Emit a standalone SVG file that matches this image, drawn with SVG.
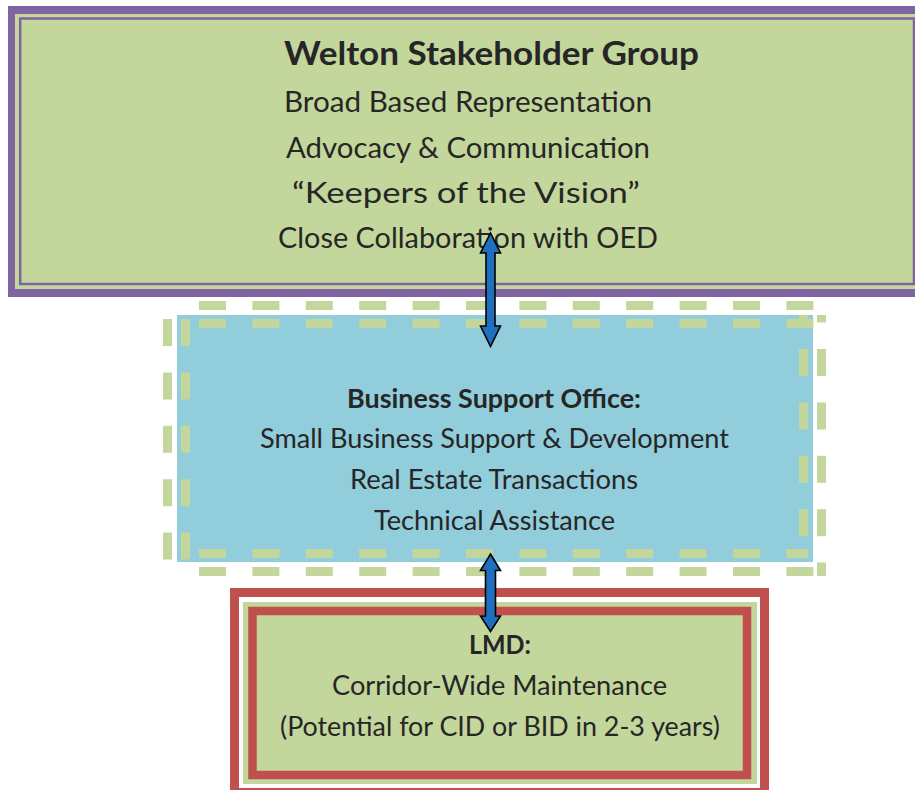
<svg xmlns="http://www.w3.org/2000/svg" width="915" height="790" viewBox="0 0 915 790">
<style>
.t{font-family:Lato,"Open Sans","Liberation Sans",sans-serif;fill:#262626;text-anchor:middle}
.b{font-weight:bold}
.dash{stroke:#C3D69B;stroke-width:9;fill:none;stroke-dasharray:27 26.4}
.red{fill:none;stroke:#C0504D}
.arrow{fill:#1F6FBF;stroke:#000;stroke-width:1.6;stroke-linejoin:miter}
</style>
<rect width="915" height="790" fill="#fff"/>
<g id="welton">
<rect x="8" y="6" width="930" height="291" fill="#8064A2"/>
<rect x="15" y="14" width="904" height="275" fill="#C3D69B"/>
<rect x="20.2" y="18.5" width="893.8" height="265.5" fill="#C3D69B" stroke="#8064A2" stroke-width="2.5"/>
<text class="t b" x="491.5" y="65" font-size="33" textLength="415" lengthAdjust="spacingAndGlyphs">Welton Stakeholder Group</text>
<text class="t" x="468" y="112" font-size="29" textLength="368" lengthAdjust="spacingAndGlyphs">Broad Based Representation</text>
<text class="t" x="468" y="158" font-size="29" textLength="364" lengthAdjust="spacingAndGlyphs">Advocacy &amp; Communication</text>
<text class="t" x="466" y="203" font-size="29" textLength="348" lengthAdjust="spacingAndGlyphs">“Keepers of the Vision”</text>
<text class="t" x="468" y="248" font-size="29" textLength="380" lengthAdjust="spacingAndGlyphs">Close Collaboration with OED</text>
</g>
<g id="bso">
<rect x="177" y="315" width="636" height="247" fill="#92CDDC"/>
<line class="dash" x1="199" y1="305.5" x2="813.4" y2="305.5"/>
<line class="dash" x1="199" y1="323.5" x2="813.4" y2="323.5"/>
<line class="dash" x1="821.5" y1="315" x2="821.5" y2="576" stroke-dashoffset="19.4"/>
<line class="dash" x1="803.5" y1="315" x2="803.5" y2="558" stroke-dashoffset="19.4"/>
<line class="dash" x1="199" y1="571.5" x2="826" y2="571.5"/>
<line class="dash" x1="199" y1="553.5" x2="808" y2="553.5"/>
<line class="dash" x1="167.5" y1="319" x2="167.5" y2="560"/>
<line class="dash" x1="185.5" y1="319" x2="185.5" y2="560"/>
<text class="t b" x="494" y="408" font-size="26" textLength="294" lengthAdjust="spacingAndGlyphs">Business Support Office:</text>
<text class="t" x="494.5" y="448" font-size="26" textLength="469" lengthAdjust="spacingAndGlyphs">Small Business Support &amp; Development</text>
<text class="t" x="494" y="489" font-size="26" textLength="288" lengthAdjust="spacingAndGlyphs">Real Estate Transactions</text>
<text class="t" x="494.5" y="530" font-size="26" textLength="241" lengthAdjust="spacingAndGlyphs">Technical Assistance</text>
</g>
<g id="lmd">
<rect class="red" x="234.5" y="592.5" width="530" height="200" stroke-width="9" fill="#fff"/>
<rect x="243" y="602" width="514" height="182" fill="#C3D69B"/>
<rect class="red" x="252.5" y="611" width="494.5" height="164" stroke-width="8.5"/>
<text class="t b" x="500" y="654" font-size="26" textLength="62" lengthAdjust="spacingAndGlyphs">LMD:</text>
<text class="t" x="499.5" y="695" font-size="26" textLength="335" lengthAdjust="spacingAndGlyphs">Corridor-Wide Maintenance</text>
<text class="t" x="500" y="736" font-size="26" textLength="440" lengthAdjust="spacingAndGlyphs">(Potential for CID or BID in 2-3 years)</text>
</g>
<g id="connectors">
<path class="arrow" d="M490.5,233 L500.5,253 L495,253 L495,326 L500.5,326 L490.5,346.5 L480.5,326 L486,326 L486,253 L480.5,253 Z"/>
<path class="arrow" d="M490.5,554 L500.5,570.5 L495.5,570.5 L495.5,616 L500.5,616 L490.5,631.5 L480.5,616 L485.5,616 L485.5,570.5 L480.5,570.5 Z"/>
</g>
</svg>
